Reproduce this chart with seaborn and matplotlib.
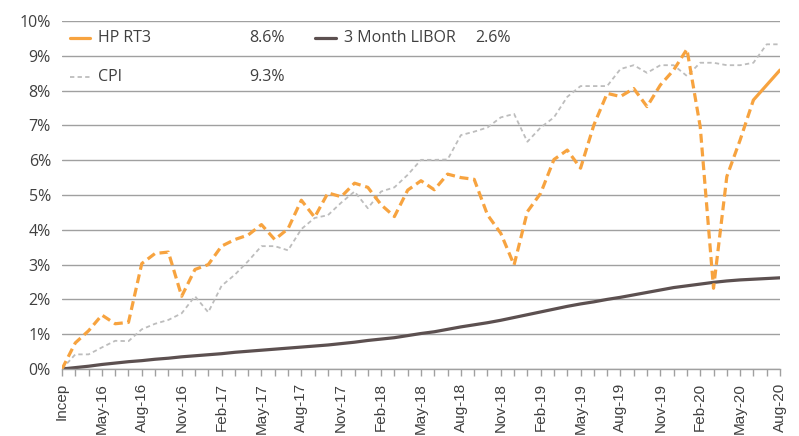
import numpy as np
import pandas as pd
import matplotlib
matplotlib.use("Agg")
import matplotlib.pyplot as plt
from matplotlib.lines import Line2D
import seaborn as sns

# Monthly cumulative returns (%), Feb-16 (Incep) to Aug-20
hp_rt3 = [0.0, 0.75, 1.1, 1.55, 1.3, 1.34, 3.03, 3.32, 3.36, 2.09,
          2.86, 3.0, 3.53, 3.72, 3.85, 4.15, 3.72, 4.03, 4.85, 4.36,
          5.06, 4.95, 5.34, 5.22, 4.72, 4.38, 5.14, 5.41, 5.15, 5.6,
          5.5, 5.45, 4.43, 3.9, 2.99, 4.52, 5.05, 6.02, 6.29, 5.77,
          7.01, 7.92, 7.83, 8.06, 7.54, 8.16, 8.59, 9.19, 6.96, 2.32,
          5.53, 6.58, 7.73, 8.16, 8.59]
libor = [0.0, 0.04, 0.08, 0.13, 0.17, 0.21, 0.24, 0.28, 0.31, 0.35,
         0.38, 0.41, 0.44, 0.48, 0.51, 0.54, 0.57, 0.60, 0.63, 0.66,
         0.69, 0.73, 0.77, 0.82, 0.86, 0.90, 0.96, 1.02, 1.07, 1.14,
         1.21, 1.27, 1.33, 1.40, 1.48, 1.56, 1.64, 1.72, 1.80, 1.87,
         1.93, 2.00, 2.06, 2.13, 2.20, 2.27, 2.34, 2.39, 2.44, 2.49,
         2.53, 2.56, 2.58, 2.60, 2.62]
cpi = [0.0, 0.42, 0.42, 0.62, 0.81, 0.8, 1.14, 1.3, 1.41, 1.6,
       2.09, 1.63, 2.39, 2.71, 3.1, 3.53, 3.53, 3.41, 4.02, 4.34,
       4.42, 4.78, 5.1, 4.62, 5.1, 5.22, 5.58, 6.01, 6.01, 6.02,
       6.72, 6.82, 6.94, 7.23, 7.33, 6.53, 6.94, 7.23, 7.82, 8.13,
       8.13, 8.13, 8.62, 8.73, 8.51, 8.73, 8.73, 8.42, 8.8, 8.8,
       8.73, 8.73, 8.8, 9.33, 9.33]

tick_labels = ["Incep", "May-16", "Aug-16", "Nov-16", "Feb-17", "May-17",
               "Aug-17", "Nov-17", "Feb-18", "May-18", "Aug-18", "Nov-18",
               "Feb-19", "May-19", "Aug-19", "Nov-19", "Feb-20", "May-20",
               "Aug-20"]

legend_names = ["HP RT3", "3 Month LIBOR", "CPI"]
legend_values = ["8.6%", "2.6%", "9.3%"]

# last two months drawn solid, the rest dashed
solid_from = 52

orange = "#F7A33F"
brown = "#5C5050"
grey = "#BDBDBD"
text_col = "#404040"
grid_col = "#A0A0A0"

df = pd.DataFrame({"month": np.arange(len(hp_rt3)), "hp": hp_rt3,
                   "libor": libor, "cpi": cpi})

sns.set_style("white")
plt.rcParams["font.family"] = ["Open Sans", "DejaVu Sans"]

fig = plt.figure(figsize=(7.99, 4.36), dpi=100)
ax = fig.add_axes([62 / 799, 1 - 369 / 436, 718 / 799, 348 / 436])

sns.lineplot(data=df, x="month", y="cpi", ax=ax, color=grey, linewidth=1.3,
             linestyle=(0, (2.4, 1.8)))
sns.lineplot(data=df, x="month", y="libor", ax=ax, color=brown, linewidth=2.3)
sns.lineplot(data=df.iloc[:solid_from + 1], x="month", y="hp", ax=ax,
             color=orange, linewidth=2.3, linestyle=(0, (2.8, 1.5)))
sns.lineplot(data=df.iloc[solid_from:], x="month", y="hp", ax=ax,
             color=orange, linewidth=2.3)

ax.set_xlim(0, len(hp_rt3) - 1)
ax.set_ylim(0, 10)
ax.set_yticks(range(0, 11))
ax.set_yticklabels([f"{v}%" for v in range(0, 11)], fontsize=11.5, color=text_col)
ax.yaxis.grid(True, color=grid_col, linewidth=1)
ax.xaxis.grid(False)
ax.set_axisbelow(True)

xt = list(range(len(hp_rt3)))
xl = [""] * len(xt)
for k, lab in enumerate(tick_labels):
    xl[k * 3] = lab
ax.set_xticks(xt)
ax.set_xticklabels(xl, rotation=90, fontsize=11, color=text_col,
                   family=["Liberation Sans", "DejaVu Sans"])
ax.tick_params(axis="x", direction="out", length=5, width=1, color=grid_col, pad=5,
               bottom=True)
ax.tick_params(axis="y", length=0, pad=8)
ax.set_xlabel("")
ax.set_ylabel("")

for s in ["top", "right", "left"]:
    ax.spines[s].set_visible(False)
ax.spines["bottom"].set_color(grid_col)
ax.spines["bottom"].set_linewidth(1)

# legend drawn as text rows
row1 = 1 - 38 / 436
row2 = 1 - 77 / 436
fig.add_artist(Line2D([70 / 799, 90 / 799], [row1, row1], color=orange, linewidth=2.3))
fig.add_artist(Line2D([315 / 799, 336 / 799], [row1, row1], color=brown, linewidth=2.3))
fig.add_artist(Line2D([70 / 799, 90 / 799], [row2, row2], color=grey, linewidth=1.3,
                      linestyle=(0, (2.4, 1.8))))
fig.text(98 / 799, row1, legend_names[0], fontsize=11.5, color=text_col, va="center")
fig.text(249 / 799, row1, legend_values[0], fontsize=11.5, color=text_col, va="center")
fig.text(344 / 799, row1, legend_names[1], fontsize=11.5, color=text_col, va="center")
fig.text(475 / 799, row1, legend_values[1], fontsize=11.5, color=text_col, va="center")
fig.text(98 / 799, row2, legend_names[2], fontsize=11.5, color=text_col, va="center")
fig.text(249 / 799, row2, legend_values[2], fontsize=11.5, color=text_col, va="center")

fig.savefig("out.png", dpi=100)
